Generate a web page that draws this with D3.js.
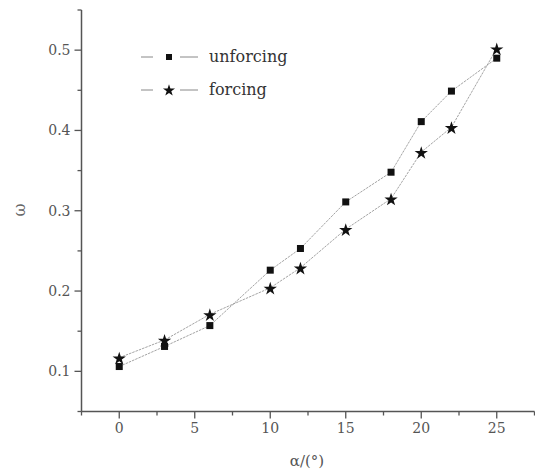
<!DOCTYPE html>
<html><head><meta charset="utf-8">
<script src="https://cdn.jsdelivr.net/npm/d3@7"></script>
<style>body{margin:0;background:#fff}svg{display:block}</style>
</head><body>
<svg id="c" width="535" height="475"></svg>
<script>
const alphaValues = [0, 3, 6, 10, 12, 15, 18, 20, 22, 25];
const unforcing = [0.106, 0.131, 0.157, 0.226, 0.253, 0.311, 0.348, 0.411, 0.449, 0.490];
const forcing = [0.117, 0.139, 0.171, 0.204, 0.229, 0.277, 0.315, 0.373, 0.404, 0.502];
const xTicks = [0, 5, 10, 15, 20, 25];
const yTicks = [0.1, 0.2, 0.3, 0.4, 0.5];
const seriesNames = ["unforcing", "forcing"];

const svg = d3.select("#c");
const x = d3.scaleLinear().domain([-2.5, 27.5]).range([81.5, 534.5]);
const y = d3.scaleLinear().domain([0.05, 0.55]).range([411.5, 10]);
const font = "'DejaVu Serif','Liberation Serif',serif";
const axisColor = "#555";

// axes
const xAxis = svg.append("g").attr("transform", "translate(0,411.5)");
xAxis.append("line").attr("x1", 81.5).attr("x2", 534.5).attr("stroke", axisColor).attr("stroke-width", 1.5);
d3.range(-2.5, 27.6, 2.5).forEach(v => {
  const major = xTicks.includes(v);
  xAxis.append("line").attr("x1", x(v)).attr("x2", x(v)).attr("y1", 0).attr("y2", major ? 7 : 4)
    .attr("stroke", axisColor).attr("stroke-width", 1.3);
});
xTicks.forEach(v => {
  xAxis.append("text").attr("x", x(v)).attr("y", 21).attr("text-anchor", "middle")
    .attr("font-family", font).attr("font-size", 14).attr("fill", "#555").text(v);
});

const yAxis = svg.append("g").attr("transform", "translate(81.5,0)");
yAxis.append("line").attr("y1", 10).attr("y2", 411.5).attr("stroke", axisColor).attr("stroke-width", 1.5);
d3.range(0.05, 0.551, 0.05).forEach(v => {
  const r = Math.round(v * 100) / 100;
  const major = yTicks.some(t => Math.abs(t - r) < 1e-9);
  yAxis.append("line").attr("x1", 0).attr("x2", major ? -7 : -4).attr("y1", y(r)).attr("y2", y(r))
    .attr("stroke", axisColor).attr("stroke-width", 1.3);
});
yTicks.forEach(v => {
  yAxis.append("text").attr("x", -11).attr("y", y(v)).attr("dy", "0.35em").attr("text-anchor", "end")
    .attr("font-family", font).attr("font-size", 14).attr("fill", "#555").text(v.toFixed(1));
});

// axis labels
svg.append("text").attr("transform", "translate(25,210) rotate(-90)").attr("text-anchor", "middle")
  .attr("font-family", font).attr("font-size", 16).attr("fill", "#666").text("ω");
svg.append("text").attr("x", 307).attr("y", 466).attr("text-anchor", "middle")
  .attr("font-family", font).attr("font-size", 15).attr("fill", "#555").text("α/(°)");

// lines
const line = d3.line().x(d => x(d[0])).y(d => y(d[1]));
const dataU = alphaValues.map((a, i) => [a, unforcing[i]]);
const dataF = alphaValues.map((a, i) => [a, forcing[i]]);
[dataU, dataF].forEach(d => {
  svg.append("path").datum(d).attr("d", line).attr("fill", "none")
    .attr("stroke", "#999").attr("stroke-width", 0.9).attr("stroke-dasharray", "2.5,1");
});

const star = d3.symbol().type(d3.symbolStar).size(55);
svg.selectAll(".sq").data(dataU).join("rect")
  .attr("x", d => x(d[0]) - 3.5).attr("y", d => y(d[1]) - 3.5)
  .attr("width", 7).attr("height", 7).attr("fill", "#111");
svg.selectAll(".st").data(dataF).join("path")
  .attr("transform", d => `translate(${x(d[0])},${y(d[1]) + 1})`).attr("d", star).attr("fill", "#111");

// legend
const leg = svg.append("g");
[57, 90].forEach((ly, i) => {
  leg.append("line").attr("x1", 141).attr("x2", 153).attr("y1", ly).attr("y2", ly).attr("stroke", "#888").attr("stroke-width", 1);
  leg.append("line").attr("x1", 180).attr("x2", 198).attr("y1", ly).attr("y2", ly).attr("stroke", "#888").attr("stroke-width", 1);
  if (i === 0) {
    leg.append("rect").attr("x", 166).attr("y", ly - 3).attr("width", 6).attr("height", 6).attr("fill", "#111");
  } else {
    leg.append("path").attr("transform", `translate(169,${ly + 0.5})`).attr("d", d3.symbol().type(d3.symbolStar).size(45)).attr("fill", "#111");
  }
  leg.append("text").attr("x", 209).attr("y", ly).attr("dy", "0.3em")
    .attr("font-family", font).attr("font-size", 16).attr("fill", "#333").text(seriesNames[i]);
});
</script>
</body></html>
